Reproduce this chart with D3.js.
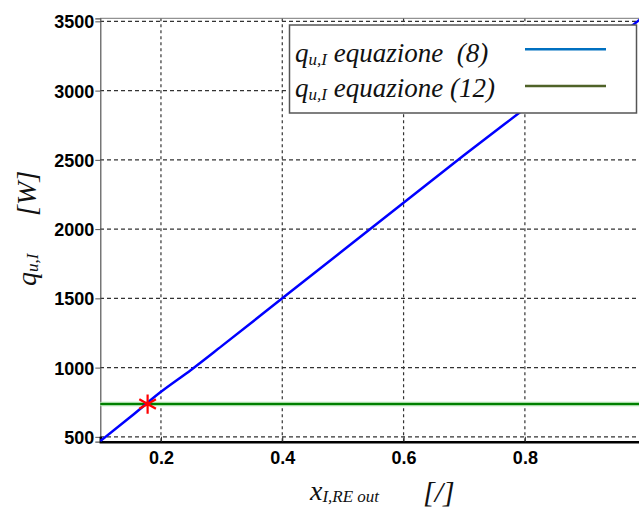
<!DOCTYPE html>
<html><head><meta charset="utf-8">
<script src="https://cdn.jsdelivr.net/npm/d3@7"></script>
<style>body{margin:0;background:#fff}svg{display:block}text{white-space:pre}</style>
</head><body>
<script>
// ---- data ----
const xValues   = [0.10, 0.15, 0.20, 0.25, 0.30, 0.40, 0.50, 0.60, 0.70, 0.80, 0.90, 0.99];
const eq8Values = [470, 645, 825, 985, 1155, 1500, 1845, 2190, 2535, 2870, 3205, 3515];
const eq12Value = 737;
const markerPoint = [0.178, 737];
const xTicks = [0.2, 0.4, 0.6, 0.8];
const yTicks = [500, 1000, 1500, 2000, 2500, 3000, 3500];
const legendLabels = ["equazione  (8)", "equazione (12)"];
const colors = {eq8:"#0000ff", eq12:"#008000", legend8:"#0070c0", legend12:"#4f6228", marker:"#ff0000"};

const W = 639, H = 509;
const svg = d3.select("body").append("svg").attr("width", W).attr("height", H);

const x = d3.scaleLinear().domain([0.1, 1.0]).range([100.3, 646.2]);
const y = d3.scaleLinear().domain([465, 3522]).range([441.7, 18.3]);

const defs = svg.append("defs");
defs.append("clipPath").attr("id","clip").append("rect")
  .attr("x",100).attr("y",18).attr("width",W-100).attr("height",424);

// grid
const grid = svg.append("g");
grid.selectAll(".vg").data(xTicks).join("line")
  .attr("x1", d=>x(d)).attr("x2", d=>x(d)).attr("y1", 18.3).attr("y2", 441.7)
  .attr("stroke","#333").attr("stroke-width",1.2).attr("stroke-dasharray","3,3");
grid.selectAll(".hg").data(yTicks).join("line")
  .attr("x1", 100).attr("x2", W).attr("y1", d=>y(d)).attr("y2", d=>y(d))
  .attr("stroke","#333").attr("stroke-width",1.2).attr("stroke-dasharray","4,3");

// top frame
svg.append("line").attr("x1",100).attr("x2",W).attr("y1",18.3).attr("y2",18.3)
  .attr("stroke","#777").attr("stroke-width",1);

// axes
const yAxis = d3.axisLeft(y).tickValues(yTicks).tickSize(5).tickFormat(d3.format("d"));
const gy = svg.append("g").attr("transform","translate(100.3,0)").call(yAxis);
gy.select(".domain").attr("stroke","#555").attr("stroke-width",1.2);
gy.selectAll(".tick line").attr("stroke","#555");
gy.selectAll("text").attr("font-family","'Liberation Sans', Arial, sans-serif")
  .attr("font-weight","bold").attr("font-size",18).attr("fill","#000").attr("x",-6).attr("dy","0.36em");

const xAxis = d3.axisBottom(x).tickValues(xTicks).tickSize(-5).tickFormat(d3.format(".1f"));
const gx = svg.append("g").attr("transform","translate(0,441.7)").call(xAxis);
gx.select(".domain").attr("stroke","#000").attr("stroke-width",2.5);
gx.selectAll(".tick line").attr("stroke","#333");
gx.selectAll("text").attr("font-family","'Liberation Sans', Arial, sans-serif")
  .attr("font-weight","bold").attr("font-size",18).attr("fill","#000").attr("y",10).attr("dy","0.71em");

// series
const plot = svg.append("g").attr("clip-path","url(#clip)");
plot.append("line").attr("x1",x(0.1)).attr("x2",x(1.0)).attr("y1",y(eq12Value)).attr("y2",y(eq12Value))
  .attr("stroke","#a8dca8").attr("stroke-width",4.5);
plot.append("line").attr("x1",x(0.1)).attr("x2",x(1.0)).attr("y1",y(eq12Value)).attr("y2",y(eq12Value))
  .attr("stroke",colors.eq12).attr("stroke-width",2);
const line = d3.line().x((d,i)=>x(xValues[i])).y(d=>y(d)).curve(d3.curveMonotoneX);
plot.append("path").attr("d", line(eq8Values)).attr("fill","none")
  .attr("stroke",colors.eq8).attr("stroke-width",2.5).attr("stroke-linejoin","round");

svg.append("path").attr("d", d3.symbol().type(d3.symbolAsterisk).size(260)())
  .attr("transform",`translate(${x(markerPoint[0])},${y(markerPoint[1])})`)
  .attr("fill","none").attr("stroke",colors.marker).attr("stroke-width",2.2);

// legend
const lg = svg.append("g");
lg.append("rect").attr("x",289.5).attr("y",25).attr("width",347).attr("height",88)
  .attr("fill","#fff").attr("stroke","#555").attr("stroke-width",1.5);
const serif = "'Liberation Serif','DejaVu Serif',serif";
const lgRows = [{y:62, label:legendLabels[0], c:colors.legend8, ly:49.3},
                {y:97, label:legendLabels[1], c:colors.legend12, ly:86}];
lgRows.forEach(r=>{
  const t = lg.append("text").attr("x",295).attr("y",r.y).attr("font-family",serif)
    .attr("font-style","italic").attr("font-size",27).attr("fill","#111");
  t.append("tspan").text("q");
  t.append("tspan").attr("font-size",17).attr("dy",3).text("u,I");
  t.append("tspan").attr("dy",-3).text(" " + r.label);
  lg.append("line").attr("x1",525).attr("x2",606).attr("y1",r.ly).attr("y2",r.ly)
    .attr("stroke",r.c).attr("stroke-width",2.5);
});

// axis titles
const xl = svg.append("text").attr("x",310).attr("y",500).attr("font-family",serif)
  .attr("font-style","italic").attr("fill","#111").attr("font-size",28);
xl.append("tspan").text("x");
xl.append("tspan").attr("font-size",17).attr("dy",2).text("I,RE out");
svg.append("text").attr("x",423).attr("y",502).attr("font-family",serif)
  .attr("font-style","italic").attr("fill","#111").attr("font-size",30).text("[/]");

const yl = svg.append("g").attr("transform","translate(36,0) rotate(-90)");
const q = yl.append("text").attr("x",-286).attr("y",0).attr("font-family",serif)
  .attr("font-style","italic").attr("fill","#111").attr("font-size",28);
q.append("tspan").text("q");
q.append("tspan").attr("font-size",17).attr("dy",2).text("u,I");
yl.append("text").attr("x",-216).attr("y",0).attr("font-family",serif)
  .attr("font-style","italic").attr("fill","#111").attr("font-size",28).text("[W]");
</script>
</body></html>
